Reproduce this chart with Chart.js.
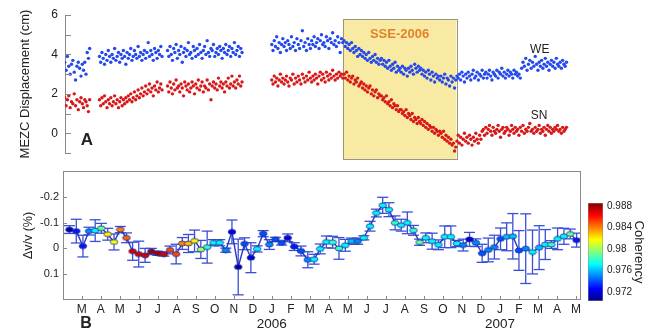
<!DOCTYPE html>
<html>
<head>
<meta charset="utf-8">
<script src="https://cdn.jsdelivr.net/npm/chart.js@4.4.1/dist/chart.umd.min.js"></script>
<style>
  html, body { margin: 0; padding: 0; background: #fff; }
  #wrap { position: relative; width: 650px; height: 330px; }
  #wrap canvas { position: absolute; left: 0; top: 0; }
</style>
</head>
<body>
<div id="wrap">
  <canvas id="top-chart" width="650" height="330"></canvas>
  <canvas id="bottom-chart" width="650" height="330"></canvas>
  <canvas id="bar-chart" width="650" height="330"></canvas>
</div>
<script>
// GPS displacement (cm), one value every 2 days from each segment start
const gpsStarts = ['2005-02-04', '2005-03-30', '2005-07-17', '2006-01-01'];
const gpsStepDays = 2;

const weSeg1 = [3.6, 3.2, 3.9, 3.4, 3.0, 3.5, 3.7, 3.1, 2.7, 3.4, 3.6, 3.3, 2.9, 3.5, 3.2, 3.6, 3.0,
    4.1, 3.8, 4.3];
const weSeg2 = [3.9, 3.6, 4.1, 3.8, 3.5, 4.0, 3.7, 4.2, 3.9, 3.6, 4.0, 3.8, 4.3, 3.7, 3.9, 4.1, 3.6,
    4.0, 3.8, 4.2, 3.9, 3.5, 4.1, 3.8, 4.0, 4.3, 3.7, 3.9, 4.2, 4.0, 3.8, 4.4, 3.9, 4.1, 3.7, 4.0,
    4.2, 3.8, 4.1, 4.6, 3.9, 4.2, 4.0, 3.7, 4.3, 4.1, 3.8, 4.2, 4.0, 4.4, 3.9];
const weSeg3 = [4.2, 3.9, 4.4, 4.0, 3.7, 4.3, 4.1, 4.5, 3.8, 4.2, 4.0, 4.4, 3.6, 4.1, 4.3, 3.9, 4.2,
    4.6, 4.0, 4.1, 3.8, 4.4, 4.2, 3.9, 4.3, 4.0, 4.5, 4.1, 3.8, 4.2, 4.4, 4.0, 4.7, 4.1, 3.9, 4.3,
    4.2, 4.5, 3.9, 4.1, 4.3, 4.0, 4.4, 4.2, 3.8, 4.3, 4.1, 4.5, 4.0, 4.2, 4.4, 3.9, 4.3, 4.1, 4.6,
    4.0, 4.2, 4.4, 3.9, 4.3, 4.1];
const weSeg4 = [4.5, 4.2, 4.7, 4.4, 4.9, 4.3, 4.6, 4.1, 4.5, 4.8, 4.4, 4.6, 4.2, 4.7, 4.5, 4.3, 4.9,
    4.4, 4.6, 4.2, 4.8, 4.5, 4.3, 4.7, 5.2, 4.4, 4.6, 4.2, 4.8, 4.5, 4.3, 4.7, 4.5, 4.9, 4.4, 4.6,
    4.8, 4.3, 4.7, 5.0, 4.5, 4.6, 4.4, 4.9, 4.7, 4.3, 4.8, 4.6, 5.1, 4.5, 4.7, 4.4, 4.9, 4.6, 4.1,
    4.8, 4.6,
    4.7, 4.4, 4.6, 4.3, 4.5, 4.2, 4.6, 4.3, 4.1, 4.4, 4.2, 3.9, 4.3, 4.0,
    4.2, 3.9, 4.1, 3.8, 4.0, 3.7, 4.1, 3.8, 3.6, 3.9, 3.7, 4.0, 3.6, 3.8, 3.5, 3.7,
    3.8, 3.5, 3.7, 3.4, 3.6, 3.3, 3.7, 3.4, 3.2, 3.5, 3.3, 3.6, 3.1, 3.4, 3.2, 3.3,
    3.1, 3.4, 3.0, 3.3, 3.2, 2.9, 3.3, 3.1, 3.4, 3.2, 3.0, 3.5, 3.3, 3.1, 3.4, 3.2,
    3.3, 3.0, 3.2, 2.9, 3.1, 2.8, 3.2, 3.0, 2.7, 3.1, 2.9, 2.6, 3.0, 2.8, 2.9, 2.7,
    2.9, 2.6, 2.8, 3.0, 2.5, 2.8, 2.7, 2.4, 2.9, 2.6, 2.8, 2.3, 2.7, 2.9,
    2.8, 3.0, 2.7, 3.1, 2.9, 2.6, 3.0, 2.8, 3.1, 2.9, 2.7, 3.0, 3.2, 2.8, 2.9, 3.1, 2.7, 3.0, 2.9,
    3.2, 2.8, 3.0, 3.1, 2.8, 3.0, 3.2, 2.9, 2.7, 3.1, 3.0, 2.9, 3.2, 2.8, 3.1, 3.0, 3.3, 2.9, 3.1,
    2.8, 3.0, 3.2, 2.9, 3.1, 3.0, 2.8, 3.2, 3.0, 3.1, 2.9, 3.0, 2.8,
    3.3, 3.6, 3.4, 3.8, 3.2, 3.5, 3.7, 3.3, 3.6, 3.4, 3.9, 3.5, 3.2, 3.6, 3.4, 3.7, 3.3, 3.5, 3.8,
    3.4, 3.6, 3.2, 3.5, 3.7, 3.4, 3.6, 3.3, 3.8, 3.5, 3.4, 3.6, 3.3, 3.7, 3.5, 3.4, 3.6];

const snSeg1 = [1.8, 1.4, 1.7, 1.9, 1.3, 1.6, 1.5, 2.0, 1.4, 1.7, 1.2, 1.6, 1.8, 1.5, 1.3, 1.7, 1.6,
    1.4, 1.1, 1.7];
const snSeg2 = [1.7, 1.4, 1.8, 1.5, 1.9, 1.6, 1.3, 1.7, 1.5, 1.8, 1.4, 1.6, 1.9, 1.5, 1.7, 1.3, 1.6,
    1.8, 1.4, 1.7, 1.5, 1.8, 1.6, 1.9, 1.7, 2.0, 1.6, 1.8, 2.1, 1.7, 1.9, 2.2, 1.8, 2.0, 2.3, 1.9,
    2.1, 2.4, 2.0, 2.2, 2.5, 2.1, 2.3, 1.9, 2.4, 2.2, 2.6, 2.1, 2.3, 2.5, 2.2];
const snSeg3 = [2.4, 2.1, 2.6, 2.3, 2.0, 2.5, 2.2, 2.7, 2.3, 2.4, 2.1, 2.5, 2.3, 1.9, 2.6, 2.4, 2.2,
    2.5, 2.1, 2.3, 2.6, 2.4, 2.0, 2.5, 2.3, 2.7, 2.2, 2.4, 2.6, 2.1, 2.4, 2.3, 2.7, 2.2, 2.5, 1.7,
    2.4, 2.6, 2.3, 2.5, 2.2, 2.8, 2.4, 2.6, 2.3, 2.5, 2.1, 2.6, 2.4, 2.8, 2.3, 2.5, 2.9, 2.4, 2.6,
    2.3, 2.7, 2.5, 2.9, 2.4, 2.6];
const snSeg4 = [2.7, 2.5, 2.9, 2.6, 2.8, 2.4, 2.7, 3.0, 2.6, 2.8, 2.5, 2.7, 2.9, 2.6, 2.4, 2.8, 2.7,
    3.0, 2.5, 2.8, 2.6, 2.9, 2.7, 2.5, 3.0, 2.8, 2.6, 2.9, 2.7, 3.1, 2.8, 2.6, 2.9, 2.7, 3.0, 2.8,
    2.5, 2.9, 3.1, 2.7, 3.0, 2.8, 2.6, 3.1, 2.9, 2.7, 3.0, 2.8, 3.2, 2.9, 2.7, 3.0, 2.8, 3.1, 2.9,
    3.0, 2.8,
    3.0, 2.8, 3.1, 2.7, 2.9, 2.6, 2.8, 2.9, 2.5, 2.7, 2.6, 2.8, 2.4, 2.5,
    2.6, 2.3, 2.5, 2.2, 2.4, 2.1, 2.3, 2.4, 2.0, 2.2, 1.9, 2.1, 2.2, 1.8, 2.0, 1.9,
    1.9, 1.7, 1.8, 1.6, 1.9, 1.5, 1.6, 1.4, 1.7, 1.3, 1.5, 1.4, 1.2, 1.4, 1.1, 1.2,
    1.2, 1.0, 1.1, 0.9, 1.2, 0.8, 1.0, 0.9, 0.7, 1.0, 0.6, 0.8, 0.7, 0.5, 0.8, 0.6,
    0.5, 0.7, 0.4, 0.6, 0.3, 0.5, 0.2, 0.4, 0.3, 0.1, 0.3, 0.0, 0.2, 0.1, -0.1, 0.1,
    0.0, -0.2, 0.1, -0.3, -0.1, -0.4, -0.2, -0.5, -0.3, -0.6, -0.5, -0.9, -0.7,
    -0.4, -0.1, -0.5, -0.2, -0.6, -0.3, 0.0, -0.4, -0.2, -0.5, -0.1, -0.3, -0.6, -0.2, -0.4, 0.0,
    -0.3, -0.5, -0.1, -0.3, 0.1,
    0.2, -0.1, 0.3, 0.0, 0.2, 0.4, 0.1, -0.1, 0.3, 0.1, 0.0, 0.2, 0.4, 0.1, -0.2, 0.2, 0.3, 0.0,
    0.1, 0.3, 0.2, -0.1, 0.1, 0.4, 0.2, 0.0, 0.3, 0.1, 0.2, -0.1, 0.3, 0.1, 0.4, 0.0, 0.2, 0.1,
    0.3, 0.5, 0.1, 0.2, 0.0, 0.3, 0.1, 0.2, 0.4, 0.0, 0.2, 0.1, 0.3, -0.1, 0.2, 0.4, 0.1, 0.3,
    0.0, 0.2, 0.1, 0.3, 0.2, 0.4, 0.1, 0.2, 0.0, 0.3, 0.1, 0.2, 0.3];

// slow slip event window and labels (date, cm)
const sseStart = '2006-04-23';
const sseEnd = '2006-10-23';
const sseTop = 5.8;
const sseBottom = -1.3;
const sseLabelY = 5.0;
const weLabel = { date: '2007-03-04', y: 4.25 };
const snLabel = { date: '2007-03-03', y: 0.9 };

// dv/v (%), one window every 10 days
const dvvStart = '2005-02-11';
const dvvStepDays = 10;
const dvv = [-0.073, -0.067, -0.009, -0.067, -0.069, -0.078, -0.055, -0.025, -0.073, -0.041,
    0.011, 0.022, 0.027, 0.012, 0.019, 0.022, 0.006, 0.022, -0.019, -0.019,
    -0.029, 0.004, -0.005, -0.022, -0.022, 0.007, -0.064, 0.072, -0.018, 0.036,
    0.002, -0.057, -0.015, -0.035, -0.021, -0.041, -0.007, 0.010, 0.044, 0.042,
    0.002, -0.025, -0.024, 0.000, -0.012, -0.028, -0.028, -0.041, -0.086, -0.137,
    -0.167, -0.150, -0.099, -0.090, -0.099, -0.070, -0.024, -0.041, -0.028, -0.014,
    -0.045, -0.045, -0.019, -0.013, -0.035, -0.022, 0.019, 0.006, -0.005, -0.037,
    -0.045, -0.047, 0.008, 0.001, 0.014, -0.003, -0.015, -0.015, -0.037, -0.047,
    -0.056, -0.032];
const dvvErr = [0.015, 0.046, 0.042, 0.015, 0.042, 0.019, 0.023, 0.031, 0.012, 0.019,
    0.035, 0.050, 0.027, 0.012, 0.008, 0.008, 0.015, 0.038, 0.023, 0.035,
    0.042, 0.035, 0.062, 0.012, 0.012, 0.008, 0.046, 0.108, 0.023, 0.058,
    0.012, 0.012, 0.019, 0.008, 0.008, 0.015, 0.015, 0.019, 0.031, 0.019,
    0.019, 0.023, 0.023, 0.042, 0.023, 0.012, 0.012, 0.008, 0.019, 0.015,
    0.031, 0.027, 0.027, 0.023, 0.042, 0.019, 0.012, 0.019, 0.031, 0.019,
    0.042, 0.042, 0.012, 0.023, 0.027, 0.015, 0.035, 0.046, 0.046, 0.042,
    0.054, 0.088, 0.077, 0.135, 0.085, 0.085, 0.058, 0.015, 0.042, 0.031,
    0.019, 0.027];
const coherency = [0.971, 0.973, 0.973, 0.975, 0.977, 0.979, 0.982, 0.9815, 0.984, 0.9845,
    0.987, 0.987, 0.987, 0.988, 0.988, 0.987, 0.985, 0.985, 0.984, 0.983,
    0.982, 0.980, 0.978, 0.977, 0.977, 0.975, 0.972, 0.971, 0.974, 0.972,
    0.977, 0.974, 0.975, 0.974, 0.974, 0.972, 0.973, 0.974, 0.975, 0.977,
    0.977, 0.977, 0.978, 0.978, 0.977, 0.976, 0.975, 0.977, 0.977, 0.977,
    0.977, 0.977, 0.978, 0.977, 0.977, 0.978, 0.979, 0.977, 0.977, 0.977,
    0.977, 0.977, 0.977, 0.975, 0.972, 0.975, 0.974, 0.975, 0.975, 0.974,
    0.976, 0.976, 0.974, 0.975, 0.977, 0.976, 0.977, 0.978, 0.977, 0.977,
    0.979, 0.973];

// axes (x is months since Jan 2005)
const monthLabels = ['M', 'A', 'M', 'J', 'J', 'A', 'S', 'O', 'N', 'D', 'J', 'F', 'M', 'A', 'M', 'J',
    'J', 'A', 'S', 'O', 'N', 'D', 'J', 'F', 'M', 'A', 'M'];
const firstMonthTick = 2;
const yearTicks = [12, 24];
const yearLabels = ['2006', '2007'];
const dvvTicks = [-0.2, -0.1, 0, 0.1];
const dvvTickLabels = ['-0.2', '-0.1', '0', '0.1'];
const cohMin = 0.9703;
const cohMax = 0.9886;
const cohTicks = [0.972, 0.976, 0.98, 0.984, 0.988];
const cohTickLabels = ['0.972', '0.976', '0.98', '0.984', '0.988'];

const DAY = 86400000;
const parseDay = s => { const [y, m, d] = s.split('-').map(Number); return Date.UTC(y, m - 1, d); };
function toMonths(t) {
    const d = new Date(t);
    const y = d.getUTCFullYear(), m = d.getUTCMonth();
    const dim = new Date(Date.UTC(y, m + 1, 0)).getUTCDate();
    return (y - 2005) * 12 + m + (d.getUTCDate() - 1) / dim;
}
const sampled = (start, step, values) =>
    values.map((v, i) => ({ x: toMonths(parseDay(start) + i * step * DAY), y: v }));

const wePts = [weSeg1, weSeg2, weSeg3, weSeg4].flatMap((s, k) => sampled(gpsStarts[k], gpsStepDays, s));
const snPts = [snSeg1, snSeg2, snSeg3, snSeg4].flatMap((s, k) => sampled(gpsStarts[k], gpsStepDays, s));
const dvvPts = sampled(dvvStart, dvvStepDays, dvv);
const stems = dvvPts.flatMap((p, i) => [{ x: p.x, y: p.y - dvvErr[i] }, { x: p.x, y: p.y + dvvErr[i] }, { x: p.x, y: null }]);
const caps = dvvPts.flatMap((p, i) => [{ x: p.x, y: p.y - dvvErr[i] }, { x: p.x, y: p.y + dvvErr[i] }]);
const monthTicks = monthLabels.map((_, i) => firstMonthTick + i);

// jet colour map
const jetStops = [[0, [0, 0, 128]], [0.125, [0, 0, 255]], [0.375, [0, 255, 255]],
    [0.625, [255, 255, 0]], [0.875, [255, 0, 0]], [1, [128, 0, 0]]];
function jet(t) {
    t = Math.min(1, Math.max(0, t));
    for (let i = 1; i < jetStops.length; i++) {
        const [t1, c1] = jetStops[i];
        const [t0, c0] = jetStops[i - 1];
        if (t <= t1) {
            const f = (t - t0) / (t1 - t0);
            const c = c0.map((v, j) => Math.round(v + (c1[j] - v) * f));
            return `rgb(${c[0]}, ${c[1]}, ${c[2]})`;
        }
    }
}
function marker(color) {
    const c = document.createElement('canvas');
    c.width = 10; c.height = 7;
    const g = c.getContext('2d');
    g.beginPath();
    g.ellipse(5, 3.5, 3.8, 2.5, 0, 0, Math.PI * 2);
    g.fillStyle = color;
    g.fill();
    g.lineWidth = 0.8;
    g.strokeStyle = '#1c2a8c';
    g.stroke();
    return c;
}
const markers = coherency.map(c => marker(jet((c - cohMin) / (cohMax - cohMin))));

Chart.defaults.font.family = '"Liberation Sans", Arial, sans-serif';
Chart.defaults.color = '#222';

const innerTicks = {
    id: 'innerTicks',
    afterDraw(chart, args, opts) {
        const { ctx, chartArea: a } = chart;
        ctx.save();
        ctx.strokeStyle = opts.color;
        ctx.lineWidth = 1;
        (opts.axes || []).forEach(id => {
            const s = chart.scales[id];
            s.ticks.forEach(t => {
                const p = Math.round(s.getPixelForValue(t.value)) + 0.5;
                ctx.beginPath();
                if (s.isHorizontal()) {
                    ctx.moveTo(p, a.bottom);
                    ctx.lineTo(p, a.bottom - opts.length);
                } else {
                    ctx.moveTo(a.left, p);
                    ctx.lineTo(a.left + opts.length, p);
                }
                ctx.stroke();
            });
        });
        if (opts.frame) {
            ctx.strokeRect(Math.round(a.left) + 0.5, Math.round(a.top) + 0.5, Math.round(a.width) - 1, Math.round(a.height) - 1);
        }
        ctx.restore();
    }
};

const topNotes = {
    id: 'topNotes',
    beforeDatasetsDraw(chart) {
        const { ctx, scales: { x, y } } = chart;
        const l = x.getPixelForValue(toMonths(parseDay(sseStart)));
        const r = x.getPixelForValue(toMonths(parseDay(sseEnd)));
        const t = y.getPixelForValue(sseTop);
        const b = y.getPixelForValue(sseBottom);
        ctx.save();
        ctx.fillStyle = '#f8eaa2';
        ctx.fillRect(l, t, r - l, b - t);
        ctx.strokeStyle = '#9a9685';
        ctx.lineWidth = 1;
        ctx.strokeRect(Math.round(l) + 0.5, Math.round(t) + 0.5, Math.round(r - l), Math.round(b - t));
        ctx.fillStyle = '#e2822e';
        ctx.font = 'bold 13px "Liberation Sans", Arial, sans-serif';
        ctx.textAlign = 'center';
        ctx.textBaseline = 'middle';
        ctx.fillText('SSE-2006', (l + r) / 2, y.getPixelForValue(sseLabelY));
        ctx.restore();
    },
    afterDatasetsDraw(chart) {
        const { ctx, chartArea: a, scales: { x, y } } = chart;
        ctx.save();
        ctx.textAlign = 'center';
        ctx.textBaseline = 'middle';
        ctx.fillStyle = '#222';
        ctx.font = '12px "Liberation Sans", Arial, sans-serif';
        [[weLabel, 'WE'], [snLabel, 'SN']].forEach(([p, txt]) => {
            ctx.fillText(txt, x.getPixelForValue(toMonths(parseDay(p.date))), y.getPixelForValue(p.y));
        });
        ctx.font = 'bold 17px "Liberation Sans", Arial, sans-serif';
        ctx.fillText('A', a.left + 22, y.getPixelForValue(-0.35));
        ctx.restore();
    }
};

const bottomNotes = {
    id: 'bottomNotes',
    afterDraw(chart) {
        const { ctx, chartArea: a } = chart;
        ctx.save();
        ctx.textAlign = 'center';
        ctx.textBaseline = 'middle';
        ctx.fillStyle = '#222';
        ctx.font = 'bold 16px "Liberation Sans", Arial, sans-serif';
        ctx.fillText('B', a.left + 23, a.bottom + 24);
        ctx.restore();
    }
};

new Chart(document.getElementById('top-chart'), {
    type: 'scatter',
    data: {
        datasets: [
            { data: wePts, backgroundColor: '#2449ec', pointRadius: 1.7, borderWidth: 0 },
            { data: snPts, backgroundColor: '#d81818', pointRadius: 1.7, borderWidth: 0 }
        ]
    },
    plugins: [topNotes, innerTicks],
    options: {
        responsive: false,
        animation: false,
        events: [],
        layout: { padding: { top: 15, right: 69, bottom: 177, left: 0 } },
        plugins: {
            legend: { display: false },
            tooltip: { enabled: false },
            innerTicks: { axes: ['y'], length: 6, color: '#888' }
        },
        scales: {
            x: { type: 'linear', display: false, min: 1.122, max: 28.265 },
            y: {
                min: -1,
                max: 6,
                grid: { display: false, drawTicks: false },
                border: { color: '#888' },
                ticks: {
                    stepSize: 1,
                    padding: 7,
                    font: { size: 12 },
                    callback: v => (v % 2 === 0 ? String(v) : '')
                },
                afterFit: s => { s.width = 65; },
                title: {
                    display: true,
                    text: 'MEZC Displacement (cm)',
                    font: { size: 13 },
                    padding: { top: 18, bottom: 0 }
                }
            }
        }
    }
});

new Chart(document.getElementById('bottom-chart'), {
    type: 'line',
    data: {
        datasets: [
            {
                data: dvvPts,
                borderColor: '#2b36c4',
                borderWidth: 1.4,
                pointStyle: markers,
                pointRadius: 4,
                order: 0
            },
            {
                data: caps,
                showLine: false,
                pointStyle: 'line',
                pointRadius: 5.5,
                pointBorderColor: '#3a4fd8',
                pointBorderWidth: 1.3,
                order: 1
            },
            {
                data: stems,
                borderColor: '#3a4fd8',
                borderWidth: 1.3,
                pointRadius: 0,
                order: 2
            }
        ]
    },
    plugins: [innerTicks, bottomNotes],
    options: {
        responsive: false,
        animation: false,
        events: [],
        layout: { padding: { top: 171, right: 69, bottom: 0, left: 0 } },
        plugins: {
            legend: { display: false },
            tooltip: { enabled: false },
            innerTicks: { axes: ['x', 'y'], length: 4, color: '#8a8a8a', frame: true }
        },
        scales: {
            x: {
                type: 'linear',
                min: 1.016,
                max: 28.265,
                grid: { display: false, drawTicks: false },
                border: { display: false },
                afterBuildTicks: s => { s.ticks = monthTicks.map(v => ({ value: v })); },
                ticks: {
                    autoSkip: false,
                    maxRotation: 0,
                    padding: 2,
                    font: { size: 12 },
                    callback: (v, i) => monthLabels[i]
                },
                afterFit: s => { s.height = 16; }
            },
            x2: {
                type: 'linear',
                position: 'bottom',
                weight: 1,
                min: 1.016,
                max: 28.265,
                grid: { display: false, drawTicks: false },
                border: { display: false },
                afterBuildTicks: s => { s.ticks = yearTicks.map(v => ({ value: v })); },
                ticks: {
                    autoSkip: false,
                    maxRotation: 0,
                    padding: 0,
                    font: { size: 13.5 },
                    callback: (v, i) => yearLabels[i]
                },
                afterFit: s => { s.height = 14; }
            },
            y: {
                reverse: true,
                min: -0.3,
                max: 0.2,
                grid: { display: false, drawTicks: false },
                border: { display: false },
                afterBuildTicks: s => { s.ticks = dvvTicks.map(v => ({ value: v })); },
                ticks: {
                    padding: 4,
                    font: { size: 11 },
                    callback: (v, i) => dvvTickLabels[i]
                },
                afterFit: s => { s.width = 63; },
                title: {
                    display: true,
                    text: 'Δv/v (%)',
                    font: { size: 12.5 },
                    padding: { top: 21, bottom: 0 }
                }
            }
        }
    }
});

function jetGradient(chart) {
    const a = chart.chartArea;
    if (!a) return '#00ffff';
    const g = chart.ctx.createLinearGradient(0, a.bottom, 0, a.top);
    jetStops.forEach(([t, c]) => g.addColorStop(t, `rgb(${c[0]}, ${c[1]}, ${c[2]})`));
    return g;
}

new Chart(document.getElementById('bar-chart'), {
    type: 'bar',
    data: {
        labels: [''],
        datasets: [{
            data: [[cohMin, cohMax]],
            backgroundColor: ctx => jetGradient(ctx.chart),
            borderColor: '#8a8a8a',
            borderWidth: 0.8,
            borderSkipped: false,
            barPercentage: 1,
            categoryPercentage: 1
        }]
    },
    options: {
        responsive: false,
        animation: false,
        events: [],
        layout: { padding: { top: 203, right: 0, bottom: 29, left: 588 } },
        plugins: { legend: { display: false }, tooltip: { enabled: false } },
        scales: {
            x: { display: false },
            y: {
                position: 'right',
                min: cohMin,
                max: cohMax,
                grid: { display: false, drawTicks: false },
                border: { display: false },
                afterBuildTicks: s => { s.ticks = cohTicks.map(v => ({ value: v })); },
                ticks: {
                    padding: 4,
                    font: { size: 10 },
                    callback: (v, i) => cohTickLabels[i]
                },
                afterFit: s => { s.width = 47; },
                title: {
                    display: true,
                    text: 'Coherency',
                    font: { size: 13 },
                    padding: { top: 4, bottom: 0 }
                }
            }
        }
    }
});
</script>
</body>
</html>
